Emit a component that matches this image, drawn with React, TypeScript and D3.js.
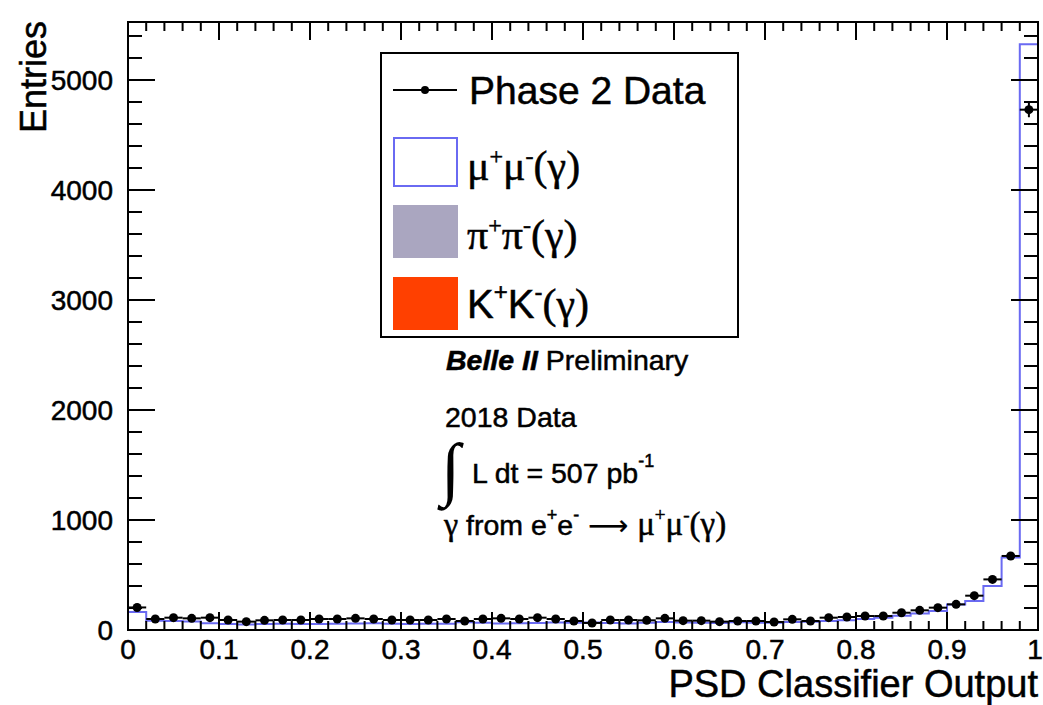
import React from 'react';
import * as d3 from 'd3';

// Histogram binning (PSD classifier output)
const binLow = 0;
const binHigh = 1;
const nBins = 50;

// Phase 2 data (entries per bin)
const dataCounts = [
  205, 100, 112, 106, 112, 91, 76, 88, 91, 91,
  100, 100, 106, 100, 91, 91, 91, 100, 82, 100,
  106, 100, 112, 100, 82, 64, 91, 91, 88, 106,
  85, 85, 76, 82, 82, 73, 97, 82, 112, 118,
  127, 127, 157, 179, 203, 233, 312, 460, 673, 4730,
];

// Stacked MC components
const mumuCounts = [
  160, 82, 80, 76, 60, 54, 50, 54, 56, 54,
  54, 56, 58, 60, 56, 54, 55, 56, 70, 64,
  58, 60, 62, 68, 64, 68, 62, 58, 66, 72,
  68, 64, 62, 70, 66, 64, 72, 74, 80, 88,
  98, 110, 128, 148, 171, 231, 262, 398, 658, 5320,
];
const pipiCounts = [
  3, 2, 1, 1, 1, 1, 1, 1, 1, 1,
  1, 1, 1, 1, 1, 1, 1, 1, 1, 1,
  1, 1, 1, 1, 1, 1, 1, 1, 1, 1,
  1, 1, 1, 1, 1, 1, 1, 1, 1, 1,
  1, 1, 1, 1, 1, 1, 1, 1, 1, 4,
];
const kkCounts = [
  1, 0, 0, 0, 0, 0, 0, 0, 0, 0,
  0, 0, 0, 0, 0, 0, 0, 0, 0, 0,
  0, 0, 0, 0, 0, 0, 0, 0, 0, 0,
  0, 0, 0, 0, 0, 0, 0, 0, 0, 0,
  0, 0, 0, 0, 0, 0, 0, 0, 0, 1,
];

const xMajorTicks = [0, 0.1, 0.2, 0.3, 0.4, 0.5, 0.6, 0.7, 0.8, 0.9, 1];
const xTickLabels = ['0', '0.1', '0.2', '0.3', '0.4', '0.5', '0.6', '0.7', '0.8', '0.9', '1'];
const yMajorTicks = [0, 1000, 2000, 3000, 4000, 5000];
const yTickLabels = ['0', '1000', '2000', '3000', '4000', '5000'];
const yMax = 5527;

const SANS = '"Liberation Sans", Arial, Helvetica, sans-serif';
const SERIF = '"Liberation Serif", "Times New Roman", serif';
const TXT_STROKE = { stroke: '#000', strokeWidth: 0.5 };

const COL_MUMU = '#6a6af2';
const COL_PIPI = '#aaa6c0';
const COL_KK = '#ff4000';

export default function App() {
  const W = 1043;
  const H = 705;
  const x = d3.scaleLinear().domain([binLow, binHigh]).range([128, 1038]);
  const y = d3.scaleLinear().domain([0, yMax]).range([630, 22]);
  const bw = (binHigh - binLow) / nBins;
  const edges = d3.range(nBins + 1).map((i) => binLow + i * bw);

  const kkStack = kkCounts;
  const pipiStack = pipiCounts.map((v, i) => v + kkCounts[i]);
  const totalStack = mumuCounts.map((v, i) => v + pipiStack[i]);

  const stepPath = (vals: number[]) => {
    let p = `M${x(edges[0])},${y(0)}`;
    vals.forEach((v, i) => {
      p += `L${x(edges[i])},${y(v)}L${x(edges[i + 1])},${y(v)}`;
    });
    p += `L${x(edges[nBins])},${y(0)}Z`;
    return p;
  };

  const xMinor = d3.range(0, nBins + 1).map((i) => binLow + i * bw);
  const yMinor = d3.range(0, 5401, 200);

  const x0 = x.range()[0];
  const x1 = x.range()[1];
  const yb = y.range()[0];
  const yt = y.range()[1];

  return (
    <svg width={W} height={H} style={{ position: 'absolute', left: 0, top: 0, background: '#fff' }}>
      <rect x={0} y={0} width={W} height={H} fill="#fff" />
      {/* stacked MC */}
      <path d={stepPath(totalStack)} fill="#fff" stroke={COL_MUMU} strokeWidth={2} />
      <path d={stepPath(pipiStack)} fill={COL_PIPI} stroke="none" />
      <path d={stepPath(kkStack)} fill={COL_KK} stroke="none" />

      {/* data points */}
      {dataCounts.map((v, i) => {
        const cx = x((edges[i] + edges[i + 1]) / 2);
        const err = Math.sqrt(v);
        return (
          <g key={i}>
            <line x1={x(edges[i])} x2={x(edges[i + 1])} y1={y(v)} y2={y(v)} stroke="#000" strokeWidth={2} />
            <line x1={cx} x2={cx} y1={y(v - err)} y2={y(v + err)} stroke="#000" strokeWidth={2} />
            <circle cx={cx} cy={y(v)} r={4.5} fill="#000" />
          </g>
        );
      })}

      {/* frame */}
      <rect x={x0} y={yt} width={x1 - x0} height={yb - yt} fill="none" stroke="#000" strokeWidth={2} />

      {/* x ticks */}
      {xMinor.map((t, i) => {
        const major = i % 5 === 0;
        const len = major ? 18 : 9;
        return (
          <g key={'xt' + i}>
            <line x1={x(t)} x2={x(t)} y1={yb} y2={yb - len} stroke="#000" strokeWidth={2} />
            <line x1={x(t)} x2={x(t)} y1={yt} y2={yt + len} stroke="#000" strokeWidth={2} />
          </g>
        );
      })}
      {/* y ticks */}
      {yMinor.map((t, i) => {
        const major = t % 1000 === 0;
        const len = major ? 27 : 14;
        return (
          <g key={'yt' + i}>
            <line x1={x0} x2={x0 + len} y1={y(t)} y2={y(t)} stroke="#000" strokeWidth={2} />
            <line x1={x1} x2={x1 - len} y1={y(t)} y2={y(t)} stroke="#000" strokeWidth={2} />
          </g>
        );
      })}

      {/* tick labels */}
      {xMajorTicks.map((t, i) => (
        <text key={'xl' + i} x={i === xMajorTicks.length - 1 ? x(t) - 3 : x(t)} y={659} textAnchor="middle"
          fontFamily={SANS} fontSize={28} fill="#000" {...TXT_STROKE}>
          {xTickLabels[i]}
        </text>
      ))}
      {yMajorTicks.map((t, i) => (
        <text key={'yl' + i} x={113} y={y(t) + 10} textAnchor="end" fontFamily={SANS} fontSize={28} fill="#000" {...TXT_STROKE}>
          {yTickLabels[i]}
        </text>
      ))}

      {/* axis titles */}
      <text x={1038} y={697} textAnchor="end" fontFamily={SANS} fontSize={38} fill="#000" {...TXT_STROKE}>
        PSD Classifier Output
      </text>
      <text transform={`translate(46,21) rotate(-90)`} textAnchor="end" fontFamily={SANS} fontSize={36} fill="#000" {...TXT_STROKE}>
        Entries
      </text>

      {/* legend */}
      <rect x={381} y={53} width={357} height={284} fill="#fff" stroke="#000" strokeWidth={2} />
      <line x1={393} x2={457} y1={90} y2={90} stroke="#000" strokeWidth={2} />
      <circle cx={425} cy={90} r={4} fill="#000" />
      <text x={469} y={104} fontFamily={SANS} fontSize={39} fill="#000" {...TXT_STROKE}>Phase 2 Data</text>

      <rect x={394} y={138} width={63} height={48} fill="#fff" stroke={COL_MUMU} strokeWidth={2} />
      <text x={467} y={180} fontFamily={SERIF} fontSize={42} fill="#000" {...TXT_STROKE}>
        <tspan>μ</tspan>
        <tspan fontSize={24} dy={-16}>+</tspan>
        <tspan dy={16}>μ</tspan>
        <tspan fontSize={24} dy={-16}>-</tspan>
        <tspan dy={16}>(γ)</tspan>
      </text>

      <rect x={393} y={205} width={65} height={53} fill={COL_PIPI} />
      <text x={467} y={249} fontFamily={SERIF} fontSize={42} fill="#000" {...TXT_STROKE}>
        <tspan>π</tspan>
        <tspan fontSize={24} dy={-16}>+</tspan>
        <tspan dy={16}>π</tspan>
        <tspan fontSize={24} dy={-16}>-</tspan>
        <tspan dy={16}>(γ)</tspan>
      </text>

      <rect x={393} y={277} width={65} height={53} fill={COL_KK} />
      <text x={467} y={318} fontFamily={SANS} fontSize={40} fill="#000" {...TXT_STROKE}>
        <tspan>K</tspan>
        <tspan fontSize={24} dy={-18}>+</tspan>
        <tspan dy={18}>K</tspan>
        <tspan fontSize={24} dy={-18}>-</tspan>
        <tspan dy={18} fontFamily={SERIF} fontSize={42}>(γ)</tspan>
      </text>

      {/* annotation */}
      <text x={446} y={370} fontFamily={SANS} fontSize={28.5} fill="#000" {...TXT_STROKE}>
        <tspan fontWeight="bold" fontStyle="italic">Belle II</tspan>
        <tspan> Preliminary</tspan>
      </text>
      <text x={445} y={427} fontFamily={SANS} fontSize={28.5} fill="#000" {...TXT_STROKE}>2018 Data</text>
      <text x={441} y={492} fontFamily={SERIF} fontSize={70} fill="#000">∫</text>
      <text x={472} y={483} fontFamily={SANS} fontSize={28.5} fill="#000" {...TXT_STROKE}>
        <tspan>L dt = 507 pb</tspan>
        <tspan fontSize={18} dy={-16}>-1</tspan>
      </text>
      <text x={444} y={535} fontFamily={SANS} fontSize={28.5} fill="#000" {...TXT_STROKE}>
        <tspan fontFamily={SERIF} fontSize={32}>γ</tspan>
        <tspan> from e</tspan>
        <tspan fontSize={18} dy={-14}>+</tspan>
        <tspan dy={14}>e</tspan>
        <tspan fontSize={18} dy={-14}>-</tspan>
        <tspan dy={14} fontFamily='"DejaVu Sans", sans-serif' fontSize={28} strokeWidth={0.2}>{'\u00a0\u27f6\u00a0'}</tspan>
        <tspan fontFamily={SERIF} fontSize={33}>μ</tspan>
        <tspan fontSize={19} dy={-14} fontFamily={SERIF}>+</tspan>
        <tspan dy={14} fontFamily={SERIF} fontSize={33}>μ</tspan>
        <tspan fontSize={19} dy={-14} fontFamily={SERIF}>-</tspan>
        <tspan dy={14} fontFamily={SERIF} fontSize={33}>(γ)</tspan>
      </text>
    </svg>
  );
}
